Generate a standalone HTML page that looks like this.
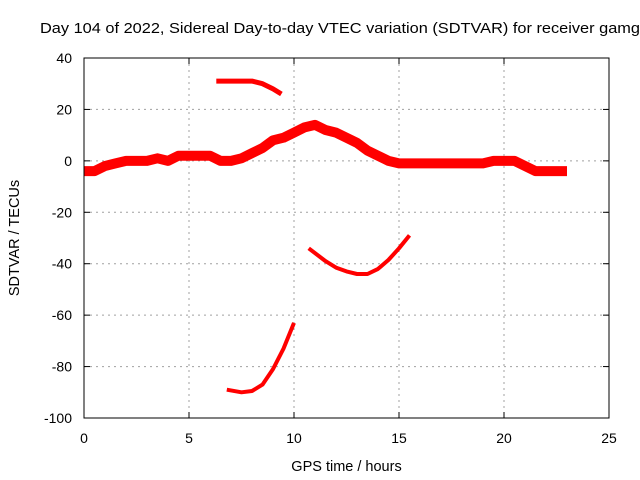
<!DOCTYPE html>
<html><head><meta charset="utf-8"><style>
body{margin:0;background:#fff}
svg{display:block;font-family:"Liberation Sans",sans-serif}
</style></head><body>
<svg id="c" width="640" height="480"></svg>
<script>
const xTicks=[0,5,10,15,20,25];
const yTicks=[40,20,0,-20,-40,-60,-80,-100];
const bandX=[0,0.5,1,1.5,2,2.5,3,3.5,4,4.5,5,5.5,6,6.5,7,7.5,8,8.5,9,9.5,10,10.5,11,11.5,12,12.5,13,13.5,14,14.5,15,15.5,16,17,18,19,19.5,20,20.5,21,21.5,22,23];
const bandY=[-4,-4,-2,-1,0,0,0,1,0,2,2,2,2,0,0,1,3,5,8,9,11,13,14,12,11,9,7,4,2,0,-1,-1,-1,-1,-1,-1,0,0,0,-2,-4,-4,-4];
const topArcX=[6.3,7,8,8.5,9,9.4];
const topArcY=[31,31,31,30,28,26];
const midArcX=[10.7,11.5,12,12.5,13,13.5,14,14.5,15,15.5];
const midArcY=[-34,-39,-41.5,-43,-44,-44,-42,-38.5,-34,-29];
const lowArcX=[6.8,7.5,8,8.5,9,9.5,10];
const lowArcY=[-89,-90,-89.5,-87,-81,-73,-63];
const X0=84,X1=609,Y0=418,Y1=58;
const sx=v=>X0+(v-0)/25*(X1-X0);
const sy=v=>Y0-(v+100)/140*(Y0-Y1);
const svg=document.getElementById('c');const NS='http://www.w3.org/2000/svg';
function mk(t,a,p){const e=document.createElementNS(NS,t);for(const k in a)e.setAttribute(k,a[k]);(p||svg).appendChild(e);return e;}
function txt(s,a){const e=mk('text',a);e.textContent=s;return e;}
let t=txt('Day 104 of 2022, Sidereal Day-to-day VTEC variation (SDTVAR) for receiver gamg',{x:40,y:33,'font-size':15,fill:'#000',textLength:600,lengthAdjust:'spacingAndGlyphs'});


xTicks.forEach(v=>{const x=sx(v);
 if(v>0&&v<25){const g=mk('line',{x1:x,x2:x,y1:Y1,y2:Y0,stroke:'#a0a0a0','stroke-dasharray':'2,4'});}
 mk('line',{x1:x,x2:x,y1:Y0,y2:Y0-6,stroke:'#000'});mk('line',{x1:x,x2:x,y1:Y1,y2:Y1+6,stroke:'#000'});
 const l=txt(String(v),{x:x,y:Y0+25,'font-size':14,'text-anchor':'middle'});});
yTicks.forEach(v=>{const y=sy(v);
 if(v>-100&&v<40){const g=mk('line',{x1:X0,x2:X1,y1:y,y2:y,stroke:'#a0a0a0','stroke-dasharray':'2,4'});}
 mk('line',{x1:X0,x2:X0+6,y1:y,y2:y,stroke:'#000'});mk('line',{x1:X1,x2:X1-6,y1:y,y2:y,stroke:'#000'});
 const l=txt(String(v),{x:X0-12,y:y+5,'font-size':14,'text-anchor':'end'});});
function series(xs,ys,w,name){const d=xs.map((x,i)=>(i?'L':'M')+sx(x).toFixed(1)+','+sy(ys[i]).toFixed(1)).join('');
 const p=mk('path',{d:d,fill:'none',stroke:'#ff0000','stroke-width':w,'stroke-linejoin':'round'});
 }
series(bandX,bandY,10,'sdtvar-main-band');
series(topArcX,topArcY,5,'sdtvar-top-arc');
series(midArcX,midArcY,4,'sdtvar-middle-arc');
series(lowArcX,lowArcY,4,'sdtvar-low-arc');
const fr=mk('rect',{x:X0,y:Y1,width:X1-X0,height:Y0-Y1,fill:'none',stroke:'#000','stroke-width':1});

t=txt('GPS time / hours',{x:(X0+X1)/2,y:471,'font-size':14.5,'text-anchor':'middle'});


t=txt('SDTVAR / TECUs',{x:0,y:0,'font-size':14.5,'text-anchor':'middle',transform:'translate(19,238) rotate(-90)'});


</script>
</body></html>
